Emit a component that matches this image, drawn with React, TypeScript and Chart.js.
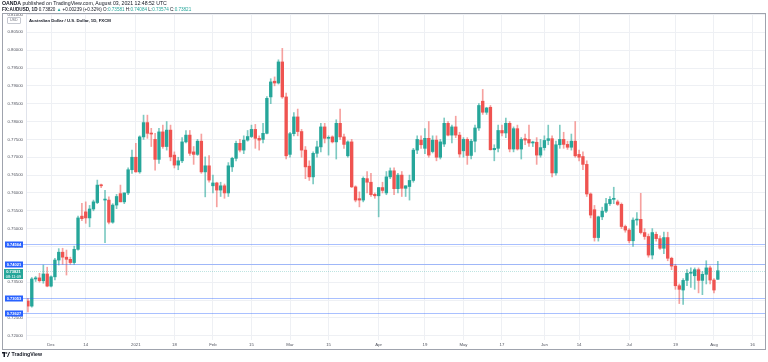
import React, { useEffect, useRef } from 'react';
import { Chart, registerables } from 'chart.js';
Chart.register(...registerables);

// Daily AUD/USD candles, Nov 23 2020 .. Aug 3 2021 (FXCM)
const OPEN = [
  0.7297, 0.7283, 0.7359, 0.7362, 0.7354, 0.7373, 0.7339, 0.7365, 0.7412, 0.7434,
  0.7420, 0.7414, 0.7405, 0.7442, 0.7535, 0.7547, 0.7530, 0.7555, 0.7573, 0.7622,
  0.7580, 0.7580, 0.7518, 0.7566, 0.7598, 0.7575, 0.7600, 0.7665, 0.7700, 0.7659,
  0.7757, 0.7797, 0.7767, 0.7750, 0.7694, 0.7771, 0.7730, 0.7776, 0.7706, 0.7678,
  0.7690, 0.7743, 0.7762, 0.7715, 0.7708, 0.7745, 0.7659, 0.7676, 0.7620, 0.7628,
  0.7608, 0.7620, 0.7600, 0.7673, 0.7697, 0.7739, 0.7720, 0.7748, 0.7758, 0.7778,
  0.7753, 0.7750, 0.7767, 0.7869, 0.7913, 0.7908, 0.7967, 0.7869, 0.7708, 0.7766,
  0.7813, 0.7772, 0.7720, 0.7675, 0.7645, 0.7711, 0.7729, 0.7785, 0.7753, 0.7757,
  0.7743, 0.7795, 0.7757, 0.7704, 0.7743, 0.7617, 0.7584, 0.7580, 0.7640, 0.7630,
  0.7596, 0.7592, 0.7615, 0.7600, 0.7645, 0.7662, 0.7612, 0.7650, 0.7613, 0.7618,
  0.7635, 0.7720, 0.7748, 0.7725, 0.7753, 0.7716, 0.7748, 0.7700, 0.7737, 0.7795,
  0.7762, 0.7785, 0.7762, 0.7718, 0.7750, 0.7705, 0.7745, 0.7782, 0.7857, 0.7826,
  0.7840, 0.7721, 0.7725, 0.7775, 0.7768, 0.7795, 0.7723, 0.7780, 0.7723, 0.7752,
  0.7750, 0.7740, 0.7742, 0.7706, 0.7727, 0.7747, 0.7752, 0.7656, 0.7735, 0.7750,
  0.7736, 0.7728, 0.7745, 0.7708, 0.7702, 0.7680, 0.7597, 0.7553, 0.7475, 0.7533,
  0.7549, 0.7570, 0.7582, 0.7575, 0.7568, 0.7506, 0.7496, 0.7466, 0.7524, 0.7526,
  0.7489, 0.7478, 0.7426, 0.7484, 0.7472, 0.7445, 0.7475, 0.7417, 0.7395, 0.7340,
  0.7328, 0.7355, 0.7375, 0.7368, 0.7385, 0.7355, 0.7372, 0.7390, 0.7356, 0.73581,
];
const HIGH = [
  0.7305, 0.7363, 0.7366, 0.7375, 0.7398, 0.7392, 0.7368, 0.7417, 0.7444, 0.7445,
  0.7440, 0.7420, 0.7451, 0.7535, 0.7571, 0.7575, 0.7565, 0.7580, 0.7636, 0.7625,
  0.7607, 0.7589, 0.7570, 0.7596, 0.7622, 0.7600, 0.7670, 0.7720, 0.7739, 0.7760,
  0.7818, 0.7818, 0.7781, 0.7767, 0.7781, 0.7790, 0.7800, 0.7790, 0.7715, 0.7700,
  0.7755, 0.7775, 0.7775, 0.7730, 0.7750, 0.7765, 0.7701, 0.7705, 0.7650, 0.7630,
  0.7630, 0.7625, 0.7685, 0.7700, 0.7745, 0.7750, 0.7760, 0.7775, 0.7790, 0.7792,
  0.7760, 0.7795, 0.7870, 0.7920, 0.7925, 0.7973, 0.8005, 0.7880, 0.7770, 0.7825,
  0.7835, 0.7778, 0.7730, 0.7690, 0.7715, 0.7745, 0.7795, 0.7795, 0.7760, 0.7760,
  0.7805, 0.7835, 0.7765, 0.7746, 0.7750, 0.7620, 0.7603, 0.7645, 0.7660, 0.7655,
  0.7600, 0.7615, 0.7630, 0.7660, 0.7670, 0.7670, 0.7655, 0.7660, 0.7620, 0.7650,
  0.7725, 0.7760, 0.7760, 0.7780, 0.7800, 0.7760, 0.7760, 0.7750, 0.7810, 0.7800,
  0.7790, 0.7815, 0.7770, 0.7755, 0.7755, 0.7750, 0.7790, 0.7850, 0.7890, 0.7840,
  0.7845, 0.7735, 0.7790, 0.7790, 0.7810, 0.7800, 0.7785, 0.7790, 0.7755, 0.7765,
  0.7790, 0.7745, 0.7755, 0.7750, 0.7760, 0.7790, 0.7760, 0.7745, 0.7790, 0.7770,
  0.7745, 0.7765, 0.7800, 0.7720, 0.7715, 0.7690, 0.7600, 0.7565, 0.7535, 0.7560,
  0.7585, 0.7590, 0.7616, 0.7580, 0.7572, 0.7510, 0.7500, 0.7530, 0.7545, 0.7599,
  0.7500, 0.7485, 0.7500, 0.7490, 0.7480, 0.7490, 0.7490, 0.7420, 0.7400, 0.7345,
  0.7360, 0.7385, 0.7390, 0.7390, 0.7390, 0.7380, 0.7410, 0.7395, 0.7360, 0.74084,
];
const LOW = [
  0.7267, 0.7280, 0.7352, 0.7350, 0.7347, 0.7337, 0.7337, 0.7356, 0.7398, 0.7400,
  0.7370, 0.7400, 0.7400, 0.7440, 0.7522, 0.7515, 0.7505, 0.7550, 0.7570, 0.7615,
  0.7461, 0.7513, 0.7515, 0.7556, 0.7575, 0.7570, 0.7595, 0.7655, 0.7658, 0.7655,
  0.7750, 0.7753, 0.7730, 0.7664, 0.7683, 0.7725, 0.7720, 0.7690, 0.7670, 0.7665,
  0.7685, 0.7740, 0.7705, 0.7680, 0.7705, 0.7655, 0.7589, 0.7630, 0.7600, 0.7561,
  0.7590, 0.7585, 0.7590, 0.7660, 0.7690, 0.7715, 0.7710, 0.7745, 0.7755, 0.7725,
  0.7720, 0.7740, 0.7765, 0.7850, 0.7900, 0.7905, 0.7865, 0.7695, 0.7700, 0.7760,
  0.7760, 0.7700, 0.7640, 0.7635, 0.7625, 0.7700, 0.7715, 0.7740, 0.7706, 0.7740,
  0.7695, 0.7750, 0.7725, 0.7700, 0.7615, 0.7575, 0.7561, 0.7575, 0.7600, 0.7590,
  0.7585, 0.7533, 0.7600, 0.7595, 0.7640, 0.7595, 0.7600, 0.7590, 0.7590, 0.7580,
  0.7630, 0.7710, 0.7725, 0.7710, 0.7700, 0.7712, 0.7690, 0.7695, 0.7730, 0.7760,
  0.7740, 0.7755, 0.7700, 0.7700, 0.7680, 0.7695, 0.7715, 0.7775, 0.7820, 0.7820,
  0.7720, 0.7690, 0.7715, 0.7760, 0.7755, 0.7715, 0.7715, 0.7720, 0.7695, 0.7735,
  0.7730, 0.7730, 0.7680, 0.7700, 0.7720, 0.7735, 0.7645, 0.7650, 0.7725, 0.7725,
  0.7722, 0.7720, 0.7700, 0.7690, 0.7665, 0.7590, 0.7530, 0.7465, 0.7465, 0.7525,
  0.7545, 0.7565, 0.7570, 0.7565, 0.7500, 0.7490, 0.7460, 0.7450, 0.7510, 0.7485,
  0.7470, 0.7420, 0.7415, 0.7465, 0.7442, 0.7430, 0.7410, 0.7385, 0.7330, 0.7290,
  0.7288, 0.7340, 0.7335, 0.7330, 0.7320, 0.7315, 0.7345, 0.7345, 0.7320, 0.73574,
];
const CLOSE = [
  0.7283, 0.7359, 0.7362, 0.7354, 0.7373, 0.7339, 0.7365, 0.7412, 0.7434, 0.7420,
  0.7414, 0.7405, 0.7442, 0.7530, 0.7528, 0.7530, 0.7555, 0.7575, 0.7622, 0.7620,
  0.7582, 0.7518, 0.7566, 0.7590, 0.7575, 0.7600, 0.7665, 0.7700, 0.7659, 0.7757,
  0.7797, 0.7767, 0.7765, 0.7694, 0.7771, 0.7730, 0.7776, 0.7701, 0.7678, 0.7690,
  0.7743, 0.7762, 0.7711, 0.7708, 0.7745, 0.7659, 0.7676, 0.7636, 0.7628, 0.7608,
  0.7620, 0.7600, 0.7676, 0.7697, 0.7739, 0.7720, 0.7748, 0.7758, 0.7778, 0.7753,
  0.7748, 0.7767, 0.7865, 0.7911, 0.7908, 0.7967, 0.7869, 0.7704, 0.7766, 0.7813,
  0.7772, 0.7720, 0.7673, 0.7645, 0.7711, 0.7729, 0.7785, 0.7753, 0.7755, 0.7743,
  0.7795, 0.7757, 0.7736, 0.7743, 0.7617, 0.7580, 0.7580, 0.7641, 0.7630, 0.7595,
  0.7592, 0.7615, 0.7607, 0.7645, 0.7662, 0.7612, 0.7650, 0.7613, 0.7620, 0.7635,
  0.7720, 0.7750, 0.7735, 0.7753, 0.7706, 0.7748, 0.7700, 0.7743, 0.7795, 0.7762,
  0.7785, 0.7762, 0.7709, 0.7750, 0.7705, 0.7745, 0.7782, 0.7845, 0.7826, 0.7838,
  0.7721, 0.7725, 0.7775, 0.7768, 0.7795, 0.7723, 0.7780, 0.7723, 0.7750, 0.7748,
  0.7740, 0.7742, 0.7706, 0.7727, 0.7747, 0.7752, 0.7656, 0.7735, 0.7750, 0.7736,
  0.7728, 0.7745, 0.7704, 0.7700, 0.7680, 0.7597, 0.7538, 0.7475, 0.7533, 0.7549,
  0.7570, 0.7582, 0.7585, 0.7568, 0.7506, 0.7496, 0.7466, 0.7524, 0.7526, 0.7489,
  0.7478, 0.7426, 0.7489, 0.7472, 0.7445, 0.7475, 0.7417, 0.7395, 0.7340, 0.7330,
  0.7355, 0.7375, 0.7378, 0.7385, 0.7355, 0.7372, 0.7390, 0.7356, 0.7328, 0.73821,
];

const FIRST_DAY = '2020-11-23';
const HOLIDAYS = ['2020-12-25', '2021-01-01'];
const FUTURE_SLOTS = 12;
const TICK_LABELS: Record<string, string> = {
  '2020-12-01': 'Dec', '2020-12-14': '14', '2021-01-04': '2021', '2021-01-18': '18',
  '2021-02-01': 'Feb', '2021-02-15': '15', '2021-03-01': 'Mar', '2021-03-15': '15',
  '2021-04-01': 'Apr', '2021-04-19': '19', '2021-05-03': 'May', '2021-05-17': '17',
  '2021-06-01': 'Jun', '2021-06-14': '14', '2021-07-01': 'Jul', '2021-07-19': '19',
  '2021-08-02': 'Aug', '2021-08-16': '16',
};
const LEVELS = [0.74564, 0.74021, 0.73053, 0.72627];
const LAST_PRICE = 0.73821;
const COUNTDOWN = '08:11:09';
const Y_MIN = 0.7188;
const Y_MAX = 0.81041;
const Y_STEP = 0.005;

const UP = '#26a69a';
const DOWN = '#ef5350';
const UP_WICK = 'rgba(38,166,154,0.6)';
const DOWN_WICK = 'rgba(239,83,80,0.55)';
const FONT = '"Liberation Sans", Arial, sans-serif';

function buildDates(count: number): string[] {
  const out: string[] = [];
  const d = new Date(FIRST_DAY + 'T00:00:00Z');
  while (out.length < count) {
    const iso = d.toISOString().slice(0, 10);
    const wd = d.getUTCDay();
    if (wd !== 0 && wd !== 6 && !HOLIDAYS.includes(iso)) out.push(iso);
    d.setUTCDate(d.getUTCDate() + 1);
  }
  return out;
}
const DATES = buildDates(OPEN.length + FUTURE_SLOTS);

const overlayPlugin = {
  id: 'tvOverlay',
  afterDraw(chart: any) {
    const { ctx, chartArea, scales } = chart;
    const y = scales.y;
    ctx.save();
    ctx.strokeStyle = '#e0e3eb';
    ctx.lineWidth = 1;
    ctx.beginPath();
    ctx.moveTo(Math.round(chartArea.left) + 0.5, chartArea.top);
    ctx.lineTo(Math.round(chartArea.left) + 0.5, chartArea.bottom);
    ctx.stroke();

    const ly = Math.round(y.getPixelForValue(LAST_PRICE)) + 0.5;
    ctx.strokeStyle = 'rgba(38,166,154,0.3)';
    ctx.setLineDash([1, 1]);
    ctx.beginPath();
    ctx.moveTo(chartArea.left, ly);
    ctx.lineTo(chartArea.right, ly);
    ctx.stroke();
    ctx.setLineDash([]);

    ctx.font = `bold 4px ${FONT}`;
    ctx.textAlign = 'center';
    ctx.textBaseline = 'middle';
    LEVELS.forEach((v) => {
      const py = Math.round(y.getPixelForValue(v)) + 0.5;
      ctx.strokeStyle = 'rgba(41,98,255,0.4)';
      ctx.beginPath();
      ctx.moveTo(22, py);
      ctx.lineTo(chartArea.right, py);
      ctx.stroke();
      ctx.fillStyle = '#2962ff';
      ctx.fillRect(5, py - 3, 18, 6);
      ctx.fillStyle = '#ffffff';
      ctx.fillText(v.toFixed(5), 14, py + 0.3);
    });

    ctx.fillStyle = UP;
    ctx.fillRect(4, ly - 2.5, 19, 10);
    ctx.fillStyle = '#ffffff';
    ctx.fillText(LAST_PRICE.toFixed(5), 13.5, ly + 0.2);
    ctx.font = `4px ${FONT}`;
    ctx.fillText(COUNTDOWN, 13.5, ly + 5);

    ctx.strokeStyle = '#9fa3ad';
    ctx.lineWidth = 1;
    ctx.strokeRect(2.5, 13.5, 763, 336);
    ctx.restore();
  },
};

export default function App() {
  const ref = useRef<HTMLCanvasElement | null>(null);
  useEffect(() => {
    document.body.style.margin = '0';
    const up = OPEN.map((o, i) => CLOSE[i] >= o);
    const chart = new Chart(ref.current as HTMLCanvasElement, {
      type: 'bar',
      data: {
        labels: DATES,
        datasets: [
          {
            label: 'wick',
            data: LOW.map((l, i) => [l, HIGH[i]]) as any,
            backgroundColor: up.map((u) => (u ? UP_WICK : DOWN_WICK)),
            barThickness: 1,
            grouped: false,
            order: 1,
          } as any,
          {
            label: 'body',
            data: OPEN.map((o, i) => [o, CLOSE[i]]) as any,
            backgroundColor: up.map((u) => (u ? UP : DOWN)),
            barThickness: 2.7,
            minBarLength: 1,
            grouped: false,
            order: 0,
          } as any,
        ],
      },
      options: {
        animation: false,
        responsive: false,
        devicePixelRatio: 1,
        layout: { padding: { left: 2, right: 2, top: 13, bottom: 12 } },
        plugins: { legend: { display: false }, tooltip: { enabled: false } },
        scales: {
          x: {
            type: 'category',
            offset: true,
            border: { display: false },
            grid: {
              offset: false,
              drawTicks: false,
              color: (c: any) => (TICK_LABELS[DATES[c.index]] ? '#eef0f4' : 'rgba(0,0,0,0)'),
            },
            ticks: {
              autoSkip: false,
              maxRotation: 0,
              minRotation: 0,
              padding: 2,
              color: '#50535e',
              font: { size: 4.3, family: FONT },
              callback: (_v: any, i: number) => TICK_LABELS[DATES[i]] || '',
            },
            afterFit: (s: any) => { s.height = 10; },
          },
          y: {
            position: 'left',
            min: Y_MIN,
            max: Y_MAX,
            border: { display: false },
            grid: { color: '#eef0f4', drawTicks: false },
            ticks: {
              stepSize: Y_STEP,
              includeBounds: false,
              padding: 3,
              color: '#50535e',
              font: { size: 4.3, family: FONT },
              callback: (v: any) => Number(v).toFixed(5),
            },
            afterFit: (s: any) => { s.width = 24; },
          },
        },
      } as any,
      plugins: [overlayPlugin],
    });
    return () => chart.destroy();
  }, []);

  const txt: React.CSSProperties = { position: 'absolute', whiteSpace: 'nowrap', fontFamily: FONT, color: '#131722', lineHeight: 1 };
  return (
    <div style={{ position: 'fixed', left: 0, top: 0, width: 768, height: 362, background: '#fff', overflow: 'hidden' }}>
      <canvas ref={ref} width={768} height={362} style={{ position: 'absolute', left: 0, top: 0, width: 768, height: 362 }} />
      <div style={{ ...txt, left: 2, top: 1, fontSize: 5.2 }}>
        <b>OANDA</b> published on TradingView.com, August 03, 2021 12:48:52 UTC
      </div>
      <div style={{ ...txt, left: 2, top: 7.5, fontSize: 4.6 }}>
        <b>FX:AUDUSD, 1D</b> 0.73820 <span style={{ color: UP }}>▲</span> +0.00239 (+0.32%) O:<span style={{ color: UP }}>0.73581</span> H:<span style={{ color: UP }}>0.74084</span> L:<span style={{ color: UP }}>0.73574</span> C:<span style={{ color: UP }}>0.73821</span>
      </div>
      <div style={{ ...txt, left: 7, top: 17, fontSize: 3.6, color: '#6a6d78', border: '0.6px solid #c5c8d0', borderRadius: 1, padding: '0.6px 2px' }}>USD</div>
      <div style={{ ...txt, left: 29, top: 18.5, fontSize: 4.3, fontWeight: 'bold' }}>Australian Dollar / U.S. Dollar, 1D, FXCM</div>
      <div style={{ position: 'absolute', left: 2, top: 352, display: 'flex', alignItems: 'center', gap: 1.5 }}>
        <svg width="8" height="5" viewBox="0 0 16 10">
          <rect x="0" y="0" width="7" height="3" fill="#131722" />
          <rect x="3" y="0" width="3" height="10" fill="#131722" />
          <circle cx="9" cy="2" r="1.6" fill="#131722" />
          <polygon points="10,10 14,0 16,0 12,10" fill="#131722" />
        </svg>
        <span style={{ ...txt, position: 'static', fontSize: 5.2, fontWeight: 'bold' }}>TradingView</span>
      </div>
    </div>
  );
}
